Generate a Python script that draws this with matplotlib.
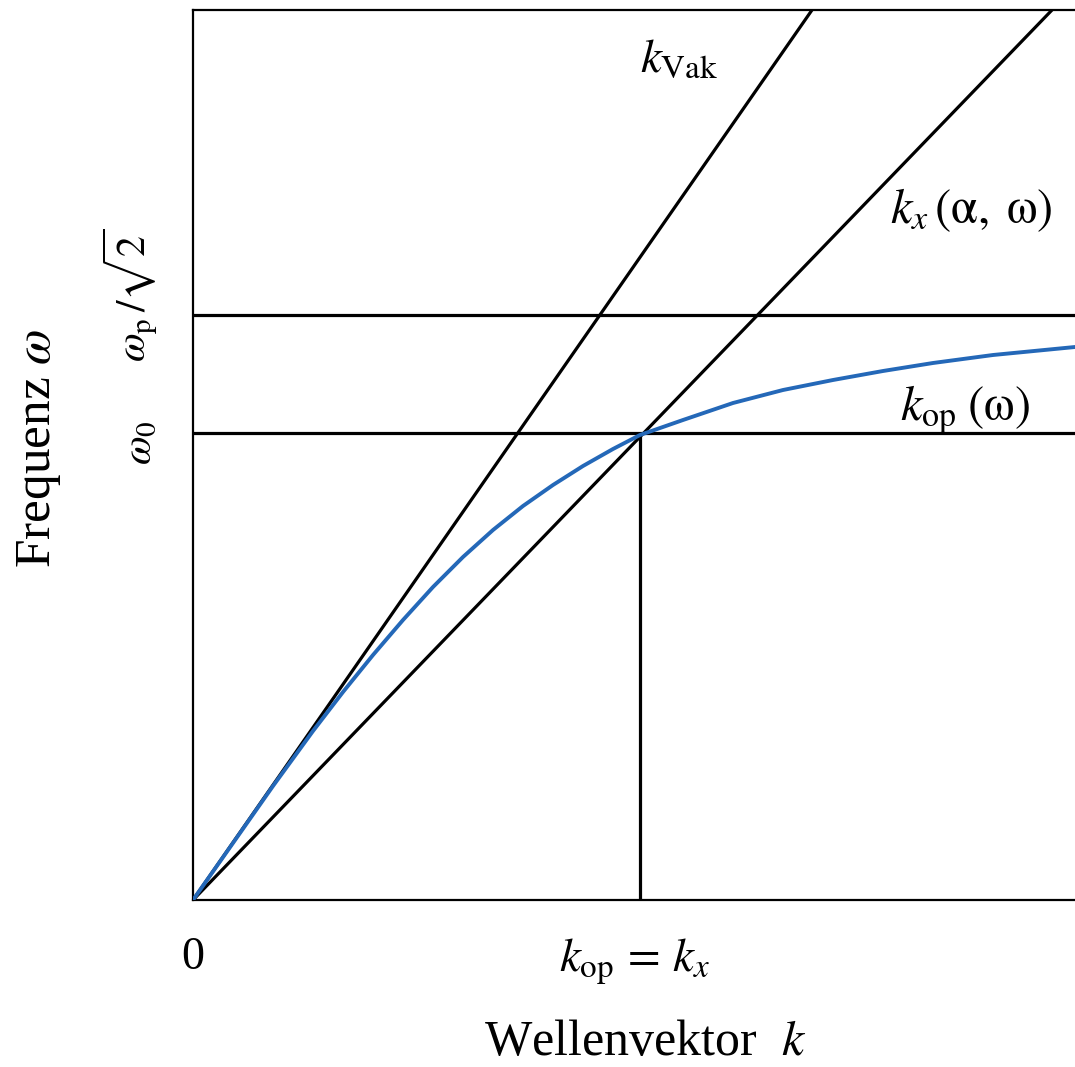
#!/usr/bin/env python3
"""Dispersion of surface plasmons: k_Vak, k_x and k_op vs. frequency."""

import numpy as np
import matplotlib
matplotlib.use("Agg")
import matplotlib.pyplot as plt

plt.rcParams['mathtext.fontset'] = 'stix'
plt.rcParams['font.family'] = ['Liberation Serif', 'DejaVu Serif']

# Axis ranges (arbitrary units, k horizontal, omega vertical).
k_max = 882
w_max = 890

# Straight lines through the origin: end points at the top edge.
k_vak_line = [0, 619]
w_vak_line = [0, 890]
k_x_line = [0, 859]
w_x_line = [0, 890]

# Characteristic frequencies and crossing wave vector.
w_0 = 467
w_p_sqrt2 = 585
k_cross = 447

# k_op(omega) curve.
k_op = [0, 40, 80, 120, 150, 180, 210, 240, 270, 300, 330, 360, 390, 420, 447,
        490, 540, 590, 640, 690, 740, 800, 882]
w_op = [0, 57, 114, 169, 208, 245, 280, 313, 343, 370, 394, 415, 434, 451, 465,
        480, 497, 510, 520, 529, 537, 545, 553]

fig = plt.figure(figsize=(10.75, 10.67), dpi=100)
ax = fig.add_axes([193 / 1075, 167 / 1067, 882 / 1075, 890 / 1067])
ax.set_xlim(0, k_max)
ax.set_ylim(0, w_max)

black = dict(color='black', lw=2.3, solid_capstyle='butt')
ax.plot(k_vak_line, w_vak_line, **black)
ax.plot(k_x_line, w_x_line, **black)
ax.axhline(w_0, **black)
ax.axhline(w_p_sqrt2, **black)
ax.plot([k_cross, k_cross], [0, w_0], **black)
ax.plot(k_op, w_op, color='#2468b8', lw=2.8, zorder=3, solid_joinstyle='round')

for side in ['left', 'bottom', 'top']:
    ax.spines[side].set_linewidth(1.6)
ax.spines['right'].set_visible(False)
ax.set_xticks([])
ax.set_yticks([])

# Axis annotations (data units equal pixels here).
ax.text(0, -58, '0', fontsize=33, ha='center', va='center')
ax.text(442, -62, r'$k_{\mathrm{op}}\,=\,k_x$', fontsize=34, ha='center', va='center')
ax.text(452, -143, r'Wellenvektor  $k$', fontsize=36, ha='center', va='center')
ax.text(-34, w_0 - 10, r'$\omega_0$', fontsize=30, rotation=90, ha='right', va='center')
ax.text(-34, w_p_sqrt2 + 20, r'$\omega_{\mathrm{p}}\,/\sqrt{2}$', fontsize=30,
        rotation=90, ha='right', va='center')
ax.text(-154, 452, r'Frequenz $\omega$', fontsize=37, rotation=90, ha='center', va='center')

ax.text(447, 840, r'$k_{\mathrm{Vak}}$', fontsize=34, va='center')
ax.text(697, 690, r'$k_x\,(\mathrm{\alpha},\;\mathrm{\omega})$', fontsize=35, va='center')
ax.text(707, 490, r'$k_{\mathrm{op}}\;(\mathrm{\omega})$', fontsize=35, va='center')

fig.savefig('out.png', dpi=100)
